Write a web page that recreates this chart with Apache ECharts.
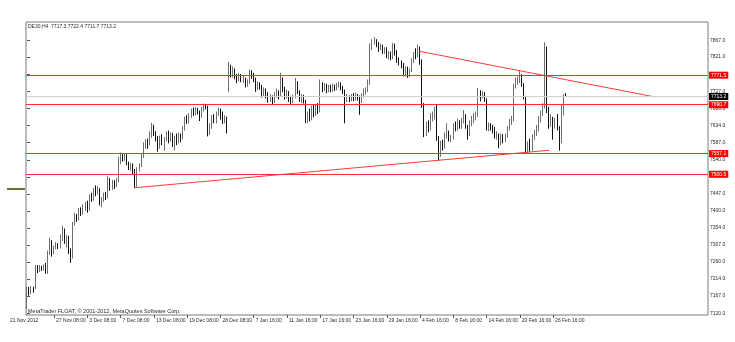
<!DOCTYPE html>
<html>
<head>
<meta charset="utf-8">
<script src="https://cdn.jsdelivr.net/npm/echarts@6.0.0/dist/echarts.min.js"></script>
<style>
html,body{margin:0;padding:0;background:#fff;}
#chart{width:735px;height:342px;}
</style>
</head>
<body>
<div id="chart"></div>
<script>
// ---- DATA ----
const symbolTitle = 'DE30,H4  7717.3 7722.4 7711.7 7713.2';
const footerText = 'MetaTrader FLOAT, \u00A9 2001-2012, MetaQuotes Software Corp.';
const slotCount = 328; // visible bar slots (bars + empty shift area)
const firstDateLabel = '21 Nov 2012';
const xTickIndex = [13, 29, 45, 61, 77, 93, 109, 125, 141, 157, 173, 189, 205, 221, 237, 253];
const xTickLabels = ['27 Nov 08:00', '3 Dec 08:00', '7 Dec 08:00', '13 Dec 08:00', '19 Dec 08:00',
  '28 Dec 08:00', '7 Jan 16:00', '11 Jan 16:00', '17 Jan 16:00', '23 Jan 16:00', '29 Jan 16:00',
  '4 Feb 16:00', '8 Feb 16:00', '14 Feb 16:00', '20 Feb 16:00', '26 Feb 16:00'];
const yTickValues = [7120.0, 7167.0, 7214.0, 7260.0, 7307.0, 7354.0, 7400.0, 7447.0, 7493.0, 7540.0,
  7587.0, 7634.0, 7680.0, 7727.0, 7773.0, 7821.0, 7867.0];
const redLevels = [7771.5, 7690.7, 7557.1, 7500.5];
const lastPrice = 7713.2;
// trend lines: [barIndex, price]
const trendUp = [[51.9, 7463.6], [251.1, 7566.0]];
const trendDown = [[188.6, 7837.0], [301.9, 7712.0]];
// candles: [open, close, low, high]
const ohlc = [
[7160,7185,7132,7193],[7185,7178,7168,7192],[7178,7188,7172,7194],[7188,7183,7176,7193],[7190,7245,7186,7252],
[7245,7238,7230,7252],[7238,7246,7233,7252],[7246,7242,7236,7250],[7242,7248,7237,7254],[7248,7232,7228,7258],
[7232,7285,7228,7292],[7285,7315,7280,7327],[7315,7290,7275,7320],[7290,7300,7282,7305],[7300,7308,7295,7315],
[7308,7302,7296,7312],[7302,7325,7298,7335],[7325,7345,7318,7360],[7345,7320,7310,7352],[7320,7328,7300,7335],
[7328,7290,7282,7332],[7290,7275,7258,7298],[7275,7365,7270,7370],[7365,7385,7360,7395],[7385,7378,7370,7392],
[7378,7400,7374,7408],[7400,7395,7386,7410],[7395,7410,7390,7418],[7410,7420,7400,7425],[7420,7405,7395,7428],
[7405,7440,7400,7445],[7440,7432,7425,7450],[7432,7455,7428,7463],[7455,7450,7440,7470],[7450,7460,7445,7468],
[7458,7420,7415,7462],[7420,7430,7410,7438],[7430,7442,7425,7450],[7442,7438,7430,7452],[7438,7475,7434,7495],
[7475,7465,7455,7490],[7465,7478,7458,7485],[7478,7470,7460,7484],[7470,7482,7465,7490],[7482,7535,7478,7548],
[7535,7550,7528,7560],[7550,7545,7535,7558],[7545,7552,7537,7558],[7552,7530,7525,7555],[7530,7520,7512,7535],
[7520,7525,7510,7532],[7525,7510,7500,7530],[7510,7470,7463,7515],[7470,7515,7466,7520],[7515,7525,7508,7530],
[7525,7550,7520,7558],[7550,7578,7545,7588],[7578,7590,7570,7596],[7590,7585,7570,7598],[7585,7608,7580,7618],
[7608,7630,7600,7641],[7630,7612,7605,7636],[7612,7598,7590,7618],[7598,7578,7562,7605],[7578,7600,7570,7606],
[7600,7588,7580,7610],[7588,7595,7565,7602],[7595,7612,7590,7618],[7612,7598,7585,7620],[7598,7610,7590,7615],
[7610,7585,7575,7614],[7585,7600,7565,7606],[7600,7592,7580,7612],[7592,7608,7585,7615],[7608,7600,7588,7612],
[7600,7625,7596,7632],[7625,7650,7620,7658],[7650,7645,7638,7662],[7645,7660,7640,7668],[7660,7672,7655,7680],
[7672,7668,7660,7683],[7668,7678,7662,7684],[7678,7670,7664,7682],[7670,7660,7646,7675],[7660,7678,7655,7685],
[7678,7688,7672,7694],[7688,7685,7678,7693],[7685,7615,7604,7688],[7615,7630,7608,7640],[7630,7655,7625,7662],
[7655,7645,7640,7665],[7645,7665,7640,7672],[7665,7675,7660,7683],[7675,7660,7650,7680],[7660,7645,7638,7672],
[7645,7655,7640,7662],[7655,7622,7612,7658],[7730,7790,7725,7808],[7790,7775,7765,7800],[7775,7785,7765,7795],
[7785,7768,7760,7790],[7768,7765,7750,7775],[7765,7770,7755,7778],[7770,7758,7752,7775],[7758,7762,7750,7770],
[7762,7745,7738,7765],[7745,7752,7740,7760],[7752,7778,7748,7787],[7778,7770,7762,7785],[7770,7760,7752,7778],
[7760,7735,7726,7765],[7735,7748,7730,7755],[7748,7740,7732,7752],[7740,7722,7710,7745],[7722,7730,7712,7738],
[7730,7718,7708,7735],[7718,7705,7696,7725],[7705,7712,7698,7720],[7712,7700,7692,7716],[7700,7718,7695,7725],
[7718,7725,7710,7735],[7725,7715,7705,7730],[7715,7760,7712,7778],[7760,7735,7725,7765],[7735,7715,7705,7740],
[7715,7725,7708,7732],[7725,7710,7698,7728],[7710,7700,7692,7715],[7700,7712,7695,7718],[7712,7750,7708,7764],
[7750,7725,7720,7755],[7725,7708,7698,7730],[7708,7712,7695,7720],[7712,7700,7694,7718],[7700,7648,7640,7704],
[7648,7665,7640,7672],[7665,7655,7645,7680],[7655,7672,7648,7688],[7672,7668,7656,7690],[7668,7680,7660,7690],
[7680,7675,7665,7695],[7675,7748,7670,7760],[7748,7735,7725,7752],[7735,7742,7728,7750],[7742,7730,7722,7748],
[7730,7738,7725,7745],[7738,7732,7725,7745],[7732,7740,7726,7748],[7740,7735,7728,7746],[7735,7745,7730,7750],
[7745,7748,7738,7754],[7748,7738,7730,7752],[7738,7728,7720,7742],[7728,7705,7640,7732],[7705,7712,7698,7720],
[7712,7705,7698,7716],[7705,7715,7700,7720],[7715,7708,7700,7722],[7708,7716,7702,7724],[7716,7710,7702,7720],
[7710,7702,7663,7716],[7702,7715,7695,7722],[7715,7725,7710,7735],[7725,7730,7718,7738],[7730,7750,7725,7760],
[7750,7845,7745,7858],[7845,7862,7840,7870],[7862,7866,7855,7876],[7866,7855,7848,7870],[7855,7845,7835,7862],
[7845,7850,7840,7858],[7850,7838,7830,7855],[7838,7842,7830,7848],[7842,7825,7818,7848],[7825,7832,7815,7838],
[7832,7820,7812,7836],[7820,7850,7815,7860],[7850,7835,7825,7858],[7835,7815,7805,7840],[7815,7808,7798,7820],
[7808,7800,7790,7812],[7800,7778,7768,7805],[7778,7790,7768,7796],[7790,7772,7764,7795],[7772,7785,7766,7790],
[7785,7812,7780,7818],[7812,7830,7805,7835],[7830,7825,7815,7845],[7825,7845,7820,7855],[7845,7810,7800,7850],
[7810,7690,7682,7815],[7690,7610,7602,7695],[7610,7635,7605,7645],[7635,7625,7615,7648],[7625,7650,7620,7668],
[7650,7662,7645,7672],[7660,7678,7650,7685],[7678,7598,7592,7690],[7598,7555,7538,7605],[7555,7585,7548,7592],
[7585,7575,7565,7595],[7575,7605,7570,7615],[7605,7612,7598,7640],[7612,7595,7590,7620],[7595,7600,7588,7608],
[7600,7630,7595,7640],[7630,7625,7618,7645],[7625,7640,7620,7652],[7640,7632,7625,7648],[7632,7645,7625,7655],
[7645,7660,7640,7676],[7660,7630,7625,7665],[7630,7610,7595,7635],[7610,7640,7605,7648],[7640,7645,7632,7660],
[7645,7655,7640,7668],[7655,7662,7648,7672],[7662,7725,7658,7737],[7725,7712,7700,7730],[7712,7720,7708,7728],
[7720,7705,7698,7725],[7705,7625,7620,7708],[7625,7635,7618,7642],[7635,7628,7620,7640],[7628,7620,7612,7635],
[7620,7605,7598,7630],[7605,7610,7595,7618],[7610,7585,7572,7612],[7585,7598,7580,7612],[7598,7592,7585,7610],
[7592,7605,7588,7612],[7605,7625,7600,7632],[7625,7640,7620,7652],[7640,7648,7635,7660],[7648,7740,7645,7748],
[7740,7755,7735,7765],[7755,7760,7745,7768],[7760,7768,7750,7784],[7768,7745,7740,7775],[7745,7712,7705,7750],
[7712,7565,7558,7715],[7565,7580,7558,7590],[7580,7572,7562,7598],[7572,7600,7565,7610],[7600,7612,7595,7622],
[7612,7625,7605,7635],[7625,7650,7618,7660],[7650,7665,7642,7675],[7665,7685,7660,7695],[7685,7835,7680,7862],
[7835,7675,7668,7850],[7675,7640,7625,7685],[7640,7650,7630,7665],[7650,7630,7595,7658],[7630,7645,7625,7655],
[7645,7628,7620,7665],[7628,7590,7565,7632],[7590,7668,7585,7690],[7668,7717,7662,7720],[7717.3,7713.2,7711.7,7722.4]
];

// ---- BUILD ----
const slots = [];
for (let i = 0; i < slotCount; i++) slots.push(String(i));
const labelMap = {};
xTickIndex.forEach((k, i) => { labelMap[k] = xTickLabels[i]; });
const isTick = (i) => labelMap[i] !== undefined;

const FONT = 'Liberation Sans';
const txt = '#2a2a2a';

const markData = redLevels.map(v => ({
  yAxis: v,
  lineStyle: { color: '#ff3030', width: 1, type: 'solid' },
  label: { show: true, position: 'end', formatter: v.toFixed(1), color: '#fff', backgroundColor: '#ff0000',
    fontSize: 5, fontFamily: FONT, padding: [1, 2, 1, 2], distance: 1 }
}));
markData.push({
  yAxis: lastPrice,
  lineStyle: { color: '#d0d0d0', width: 1, type: 'solid' },
  label: { show: true, position: 'end', formatter: lastPrice.toFixed(1), color: '#fff', backgroundColor: '#000',
    fontSize: 5, fontFamily: FONT, padding: [1, 2, 1, 2], distance: 1 }
});

const chart = echarts.init(document.getElementById('chart'), null, { renderer: 'canvas' });
chart.setOption({
  animation: false,
  backgroundColor: '#ffffff',
  grid: { left: 26, right: 27, top: 22, bottom: 27, show: true, borderColor: '#7a7a7a', borderWidth: 1, backgroundColor: '#fff' },
  xAxis: [{
    type: 'category', data: slots, boundaryGap: true,
    axisLine: { show: false },
    axisTick: { show: true, interval: (i) => isTick(i), alignWithLabel: true, length: 3, lineStyle: { color: '#555' } },
    axisLabel: { interval: (i) => isTick(i), formatter: (v, i) => labelMap[i] || '', align: 'left',
      showMinLabel: true, showMaxLabel: true, hideOverlap: false,
      fontSize: 5, fontFamily: FONT, color: txt, margin: 3, padding: [0, 0, 0, 2] },
    splitLine: { show: false }
  }, {
    type: 'value', min: -0.5, max: slotCount - 0.5, show: false
  }],
  yAxis: {
    type: 'value', position: 'right', min: 7115.3, max: 7917,
    axisLine: { show: false },
    splitLine: { show: false },
    axisTick: { show: true, length: 3, lineStyle: { color: '#555' }, customValues: yTickValues },
    axisLabel: { customValues: yTickValues, formatter: (v) => Number(v).toFixed(1), fontSize: 5, fontFamily: FONT, color: txt, margin: 2 }
  },
  series: [{
    type: 'candlestick',
    xAxisIndex: 0,
    data: ohlc,
    barWidth: 1,
    itemStyle: { color: '#a0a0a0', color0: '#111', borderColor: '#6e6e6e', borderColor0: '#111', borderWidth: 1 },
    markLine: { symbol: ['none', 'none'], silent: true, animation: false, data: markData }
  }, {
    type: 'line', xAxisIndex: 1, data: trendUp, showSymbol: false, silent: true,
    lineStyle: { color: '#ff3a3a', width: 1 }, z: 3
  }, {
    type: 'line', xAxisIndex: 1, data: trendDown, showSymbol: false, silent: true,
    lineStyle: { color: '#ff3a3a', width: 1 }, z: 3
  }],
  graphic: [
    { type: 'text', left: 28, top: 24, style: { text: symbolTitle, fontSize: 5, fontFamily: FONT, fill: txt } },
    { type: 'text', left: 28, top: 308, style: { text: footerText, fontSize: 5.5, fontFamily: FONT, fill: txt } },
    { type: 'text', left: 10, top: 318, style: { text: firstDateLabel, fontSize: 5, fontFamily: FONT, fill: txt } },
    { type: 'line', shape: { x1: 7, y1: 189, x2: 25, y2: 189 }, style: { stroke: '#5d7a2c', lineWidth: 2 } }
  ]
});
</script>
</body>
</html>
